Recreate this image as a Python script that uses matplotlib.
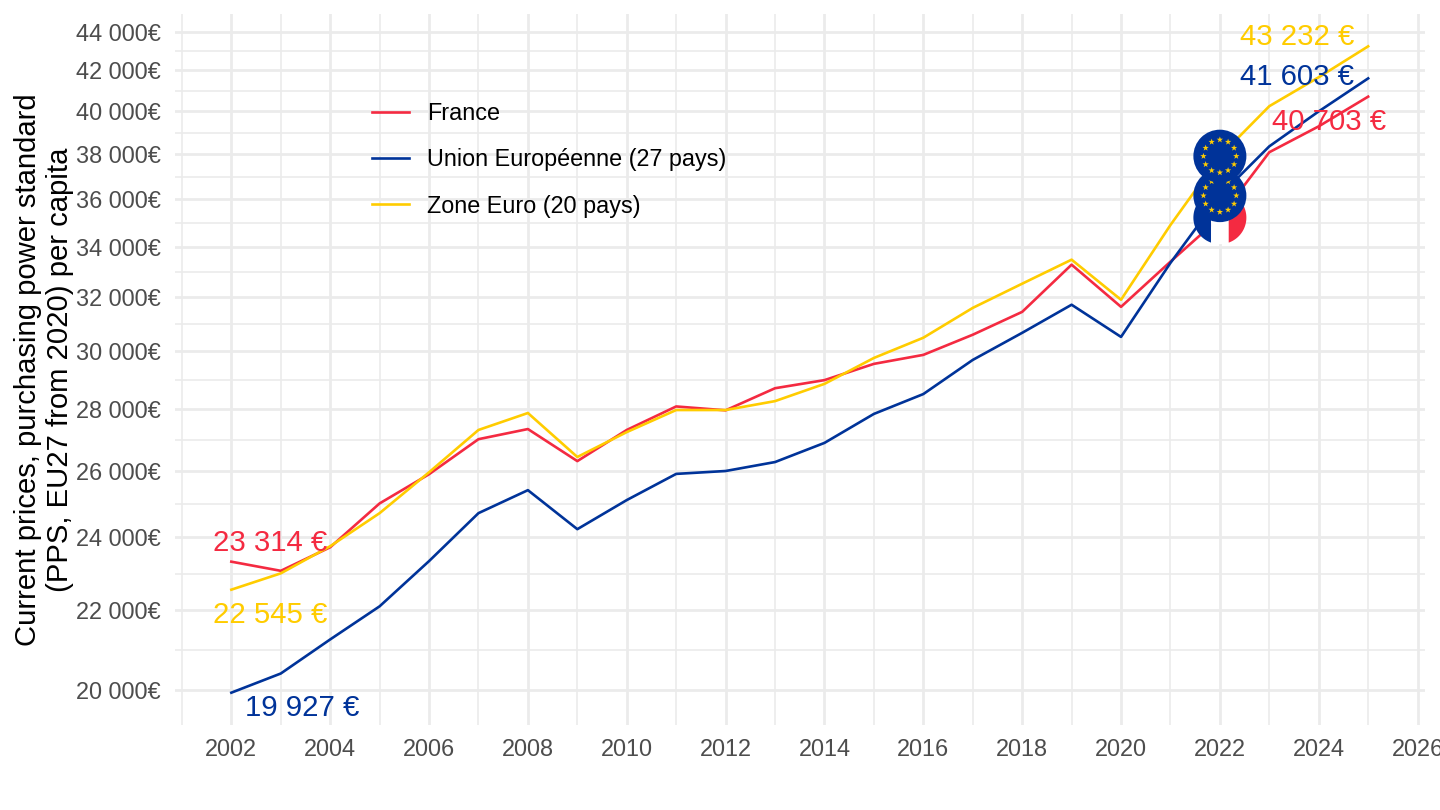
import numpy as np
import matplotlib
matplotlib.use("Agg")
import matplotlib.pyplot as plt
from matplotlib.offsetbox import AnnotationBbox, DrawingArea
from matplotlib.patches import Circle, Polygon

plt.rcParams['font.family'] = ['Liberation Sans', 'DejaVu Sans']

years = list(range(2002, 2026))
france = [23314, 23060, 23720, 25000, 25890, 27000, 27330, 26300, 27300, 28080, 27950, 28700,
          28980, 29550, 29870, 30600, 31450, 33280, 31640, 33400, 35210, 38080, 39280, 40703]
eu27 = [19927, 20390, 21240, 22100, 23330, 24710, 25400, 24240, 25100, 25900, 25990, 26270,
        26880, 27830, 28500, 29690, 30670, 31720, 30520, 33350, 36150, 38350, 39990, 41603]
ea20 = [22545, 22990, 23750, 24710, 25950, 27300, 27860, 26430, 27230, 27960, 27960, 28260,
        28850, 29760, 30490, 31600, 32530, 33480, 31910, 34900, 37900, 40240, 41660, 43232]
series_names = ['France', 'Union Européenne (27 pays)', 'Zone Euro (20 pays)']
y_major = list(range(20000, 46000, 2000))
x_major = list(range(2002, 2028, 2))
x_minor = list(range(2001, 2027, 2))

RED, BLUE, YEL = '#F42A41', '#003399', '#FFCC00'
W, H = 1440, 810
L, R, T, B = 174.5, 1425, 14, 725

fig = plt.figure(figsize=(14.4, 8.1), dpi=100)
ax = fig.add_axes([L / W, 1 - B / H, (R - L) / W, (B - T) / H])
ax.set_yscale('log')
ax.set_xlim(2000.85, 2026.15)
ax.set_ylim(19170, 44940)

y_minor = [np.sqrt(a * b) for a, b in zip(y_major[:-1], y_major[1:])]
ax.set_yticks(y_major)
ax.set_yticklabels([f"{v // 1000} 000€" for v in y_major])
ax.set_yticks(y_minor, minor=True)
ax.set_yticklabels([], minor=True)
ax.set_xticks(x_major)
ax.set_xticklabels([str(v) for v in x_major])
ax.set_xticks(x_minor, minor=True)
ax.set_xticklabels([], minor=True)

ax.grid(which='major', color='#EBEBEB', lw=2.0)
ax.grid(which='minor', color='#EBEBEB', lw=1.2)
ax.set_axisbelow(True)
ax.tick_params(which='both', length=0)
ax.tick_params(axis='both', which='major', labelsize=16.9, colors='#4D4D4D')
ax.tick_params(axis='y', pad=9.7)
ax.tick_params(axis='x', pad=9)
for s in ax.spines.values():
    s.set_visible(False)

ax.plot(years, france, color=RED, lw=1.9, label=series_names[0], solid_joinstyle='round')
ax.plot(years, eu27, color=BLUE, lw=1.9, label=series_names[1], solid_joinstyle='round')
ax.plot(years, ea20, color=YEL, lw=1.9, label=series_names[2], solid_joinstyle='round')

ax.set_ylabel("Current prices, purchasing power standard\n(PPS, EU27 from 2020) per capita",
              fontsize=21.1, color='black', ha='center', va='center', linespacing=1.16)
ax.yaxis.set_label_coords((44 - L) / (R - L), 0.5)

leg = ax.legend(loc='upper left', bbox_to_anchor=((360 - L) / (R - L), 1 - (90.5 - T) / (B - T)),
                frameon=False, fontsize=16.85, handlelength=1.58, handletextpad=0.78,
                labelspacing=0.99, borderpad=0.5, borderaxespad=0)


def money(v):
    return f"{v // 1000} {v % 1000:03d} €"


def lab(x, y, color, dx, dy):
    ax.annotate(money(y), (x, y), xytext=(dx * 0.72, dy * 0.72), textcoords='offset points',
                ha='center', va='center', fontsize=21.2, color=color, zorder=6)


lab(years[0], france[0], RED, 39, 19)
lab(years[0], ea20[0], YEL, 39, -25)
lab(years[0], eu27[0], BLUE, 71, -15)
lab(years[-1], ea20[-1], YEL, -71, 9)
lab(years[-1], eu27[-1], BLUE, -71, 1)
lab(years[-1], france[-1], RED, -39, -25)

FLAG_D = 53 * 0.72  # points
r = FLAG_D / 2


def star(cx, cy, rad):
    a = np.pi / 2 + np.arange(10) * np.pi / 5
    rr = np.where(np.arange(10) % 2 == 0, rad, rad * 0.4)
    return np.c_[cx + rr * np.cos(a), cy + rr * np.sin(a)]


def eu_flag():
    da = DrawingArea(FLAG_D, FLAG_D, 0, 0)
    da.add_artist(Circle((r, r), r, fc=BLUE, ec='none'))
    ring = r * 0.62
    for k in range(12):
        t = k * np.pi / 6
        da.add_artist(Polygon(star(r + ring * np.cos(t), r + ring * np.sin(t), r * 0.125),
                              fc=YEL, ec='none'))
    return da


def fr_flag():
    da = DrawingArea(FLAG_D, FLAG_D, 0, 0)
    lim = r / 3
    t = np.arccos(lim / r)
    a = np.linspace(-t, t, 60)
    right = np.c_[r + r * np.cos(a), r + r * np.sin(a)]
    left = np.c_[r - r * np.cos(a), r + r * np.sin(a)]
    a2 = np.linspace(t, np.pi - t, 30)
    top = np.c_[r + r * np.cos(a2), r + r * np.sin(a2)]
    mid = np.vstack([top, (top * [1, -1] + [0, 2 * r])[::-1]])
    da.add_artist(Polygon(left, fc=BLUE, ec='none'))
    da.add_artist(Polygon(mid, fc='white', ec='none'))
    da.add_artist(Polygon(right, fc=RED, ec='none'))
    return da


flag_year = 2022
i = years.index(flag_year)
for flag, v, z in [(fr_flag(), france[i], 5), (eu_flag(), eu27[i], 5.1), (eu_flag(), ea20[i], 5.2)]:
    ab = AnnotationBbox(flag, (flag_year, v), frameon=False, pad=0, box_alignment=(0.5, 0.5), zorder=z)
    ax.add_artist(ab)

fig.savefig('out.png', dpi=100, facecolor='white')
